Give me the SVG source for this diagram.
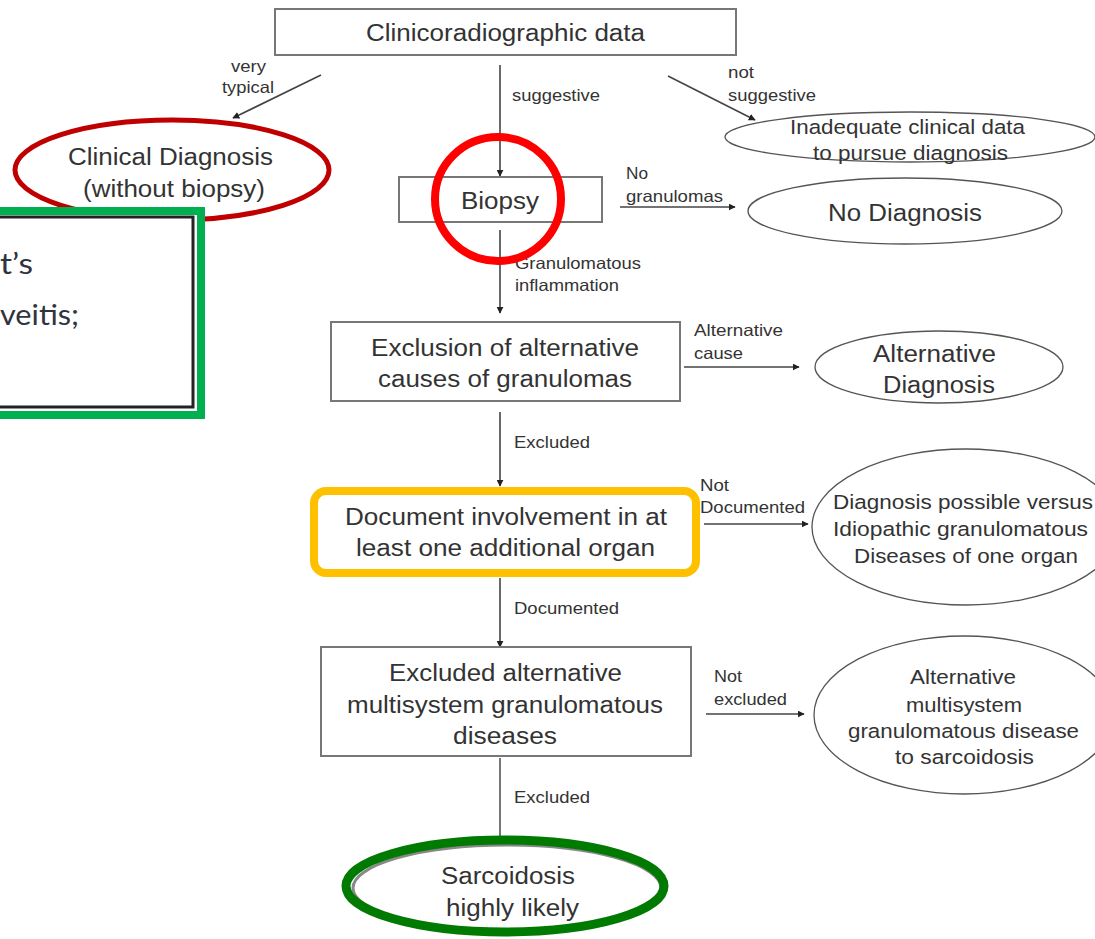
<svg xmlns="http://www.w3.org/2000/svg" width="1095" height="939" viewBox="0 0 1095 939">
<defs>
<marker id="ah" viewBox="0 0 10 10" refX="9" refY="5" markerWidth="7" markerHeight="7" markerUnits="userSpaceOnUse" orient="auto"><path d="M0,0 L10,5 L0,10 z" fill="#222"/></marker>
<style>
text{font-family:"Liberation Sans",Arial,sans-serif;fill:#333;}
.n{font-size:23.5px;text-anchor:middle;}
.e{font-size:20.5px;text-anchor:middle;}
.l{font-size:16.5px;}
.box{fill:#fff;stroke:#777;stroke-width:2;}
.ell{fill:#fff;stroke:#555;stroke-width:1.3;}
.c{stroke:#555;stroke-width:1.6;fill:none;}
.cm{stroke:#444;stroke-width:1.6;fill:none;marker-end:url(#ah);}
.gt{font-family:Lato,"Open Sans",sans-serif;font-size:29px;fill:#2e3440;}
</style>
</defs>
<rect width="1095" height="939" fill="#fff"/>

<g id="connectors">
<line class="cm" x1="321" y1="75" x2="233" y2="118"/>
<line class="cm" x1="500" y1="65" x2="500" y2="176"/>
<line class="cm" x1="668" y1="76" x2="755" y2="120"/>
<line class="cm" x1="620" y1="207" x2="735" y2="207"/>
<line class="cm" x1="500" y1="230" x2="500" y2="313"/>
<line class="cm" x1="684" y1="367" x2="799" y2="367"/>
<line class="cm" x1="500" y1="412" x2="500" y2="486"/>
<line class="cm" x1="704" y1="524" x2="808" y2="524"/>
<line class="cm" x1="500" y1="578" x2="500" y2="647"/>
<line class="cm" x1="706" y1="714" x2="804" y2="714"/>
<line class="c" x1="500" y1="758" x2="500" y2="842"/>
<text class="l" x="231" y="72" textLength="35" lengthAdjust="spacingAndGlyphs">very</text>
<text class="l" x="222" y="93" textLength="52" lengthAdjust="spacingAndGlyphs">typical</text>
<text class="l" x="512" y="101" textLength="88" lengthAdjust="spacingAndGlyphs">suggestive</text>
<text class="l" x="728" y="78" textLength="26" lengthAdjust="spacingAndGlyphs">not</text>
<text class="l" x="728" y="101" textLength="88" lengthAdjust="spacingAndGlyphs">suggestive</text>
<text class="l" x="626" y="179" textLength="22" lengthAdjust="spacingAndGlyphs">No</text>
<text class="l" x="626" y="202" textLength="97" lengthAdjust="spacingAndGlyphs">granulomas</text>
<text class="l" x="515" y="269" textLength="126" lengthAdjust="spacingAndGlyphs">Granulomatous</text>
<text class="l" x="515" y="291" textLength="104" lengthAdjust="spacingAndGlyphs">inflammation</text>
<text class="l" x="694" y="336" textLength="89" lengthAdjust="spacingAndGlyphs">Alternative</text>
<text class="l" x="694" y="359" textLength="49" lengthAdjust="spacingAndGlyphs">cause</text>
<text class="l" x="514" y="448" textLength="76" lengthAdjust="spacingAndGlyphs">Excluded</text>
<text class="l" x="700" y="491" textLength="29" lengthAdjust="spacingAndGlyphs">Not</text>
<text class="l" x="700" y="513" textLength="105" lengthAdjust="spacingAndGlyphs">Documented</text>
<text class="l" x="514" y="614" textLength="105" lengthAdjust="spacingAndGlyphs">Documented</text>
<text class="l" x="714" y="682" textLength="28" lengthAdjust="spacingAndGlyphs">Not</text>
<text class="l" x="714" y="705" textLength="73" lengthAdjust="spacingAndGlyphs">excluded</text>
<text class="l" x="514" y="803" textLength="76" lengthAdjust="spacingAndGlyphs">Excluded</text>
</g>

<g id="clinicoradiographic">
<rect class="box" x="275" y="9" width="461" height="46"/>
<text class="n" x="505.5" y="41" textLength="279" lengthAdjust="spacingAndGlyphs">Clinicoradiographic data</text>
</g>

<g id="clinical-diagnosis">
<ellipse cx="172" cy="170" rx="157" ry="50" fill="#fff" stroke="#c00000" stroke-width="5"/>
<text class="n" x="170.5" y="165" font-size="22.5" textLength="205" lengthAdjust="spacingAndGlyphs">Clinical Diagnosis</text>
<text class="n" x="174" y="197" font-size="22.5" textLength="182" lengthAdjust="spacingAndGlyphs">(without biopsy)</text>
</g>

<g id="inadequate">
<ellipse class="ell" cx="910" cy="137" rx="185" ry="25"/>
<text class="e" x="907.5" y="134" textLength="235" lengthAdjust="spacingAndGlyphs">Inadequate clinical data</text>
<text class="e" x="910.5" y="160" textLength="195" lengthAdjust="spacingAndGlyphs">to pursue diagnosis</text>
</g>

<g id="green-box">
<rect x="-6" y="211" width="207" height="204" fill="#fff" stroke="#00b050" stroke-width="8"/>
<rect x="-6" y="217" width="199" height="190" fill="none" stroke="#222" stroke-width="3"/>
<text class="gt" x="0" y="274" textLength="33" lengthAdjust="spacingAndGlyphs">t’s</text>
<text class="gt" x="0" y="325" textLength="79" lengthAdjust="spacingAndGlyphs">veitis;</text>
</g>

<g id="biopsy">
<rect class="box" x="399" y="177" width="203" height="45"/>
<text class="n" x="500" y="209" textLength="78" lengthAdjust="spacingAndGlyphs">Biopsy</text>
<ellipse cx="498" cy="199" rx="63" ry="62" fill="none" stroke="#ff0000" stroke-width="8"/>
</g>

<g id="no-diagnosis">
<ellipse class="ell" cx="905" cy="211" rx="157" ry="33"/>
<text class="n" x="905" y="221" font-size="25.5" textLength="154" lengthAdjust="spacingAndGlyphs">No Diagnosis</text>
</g>

<g id="exclusion">
<rect class="box" x="331" y="322" width="349" height="79"/>
<text class="n" x="505" y="356" textLength="268" lengthAdjust="spacingAndGlyphs">Exclusion of alternative</text>
<text class="n" x="505" y="387" textLength="254" lengthAdjust="spacingAndGlyphs">causes of granulomas</text>
</g>

<g id="alternative-diagnosis">
<ellipse class="ell" cx="939" cy="367" rx="124" ry="36"/>
<text class="n" x="934.5" y="362" textLength="123" lengthAdjust="spacingAndGlyphs">Alternative</text>
<text class="n" x="939" y="393" textLength="112" lengthAdjust="spacingAndGlyphs">Diagnosis</text>
</g>

<g id="document">
<rect x="314" y="491" width="382" height="82" rx="12" fill="#fff" stroke="#ffc000" stroke-width="8"/>
<text class="n" x="506" y="525" textLength="322" lengthAdjust="spacingAndGlyphs">Document involvement in at</text>
<text class="n" x="505.5" y="556" textLength="299" lengthAdjust="spacingAndGlyphs">least one additional organ</text>
</g>

<g id="diagnosis-possible">
<ellipse class="ell" cx="966" cy="527" rx="154" ry="78"/>
<text class="e" x="963" y="509" textLength="260" lengthAdjust="spacingAndGlyphs">Diagnosis possible versus</text>
<text class="e" x="960.5" y="536" textLength="255" lengthAdjust="spacingAndGlyphs">Idiopathic granulomatous</text>
<text class="e" x="966" y="563" textLength="224" lengthAdjust="spacingAndGlyphs">Diseases of one organ</text>
</g>

<g id="excluded-multisystem">
<rect class="box" x="321" y="647" width="370" height="109"/>
<text class="n" x="505.5" y="681" textLength="233" lengthAdjust="spacingAndGlyphs">Excluded alternative</text>
<text class="n" x="505" y="713" textLength="316" lengthAdjust="spacingAndGlyphs">multisystem granulomatous</text>
<text class="n" x="505" y="744" textLength="104" lengthAdjust="spacingAndGlyphs">diseases</text>
</g>

<g id="alternative-multisystem">
<ellipse class="ell" cx="964" cy="715" rx="150" ry="79"/>
<text class="e" x="963" y="684" textLength="106" lengthAdjust="spacingAndGlyphs">Alternative</text>
<text class="e" x="964" y="712" textLength="116" lengthAdjust="spacingAndGlyphs">multisystem</text>
<text class="e" x="963.5" y="738" textLength="231" lengthAdjust="spacingAndGlyphs">granulomatous disease</text>
<text class="e" x="964.5" y="764" textLength="139" lengthAdjust="spacingAndGlyphs">to sarcoidosis</text>
</g>

<g id="sarcoidosis">
<ellipse cx="507" cy="888" rx="154" ry="43" fill="#fff" stroke="#888" stroke-width="3"/>
<ellipse cx="505" cy="886" rx="159" ry="46" fill="none" stroke="#007a00" stroke-width="9"/>
<text class="n" x="508" y="884" textLength="134" lengthAdjust="spacingAndGlyphs">Sarcoidosis</text>
<text class="n" x="512.5" y="916" textLength="133" lengthAdjust="spacingAndGlyphs">highly likely</text>
</g>
</svg>
